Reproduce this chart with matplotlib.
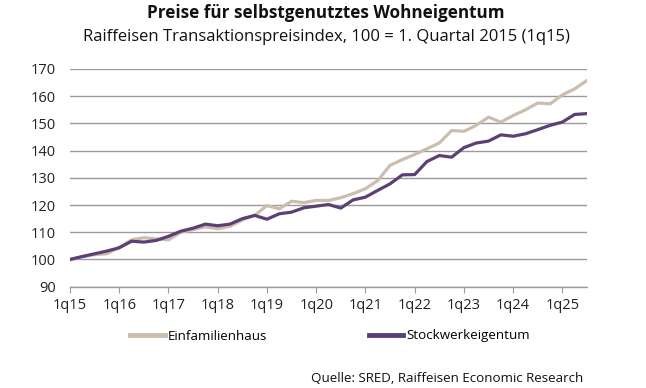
import matplotlib
matplotlib.use("Agg")
import matplotlib.pyplot as plt
from matplotlib.lines import Line2D

plt.rcParams['font.family'] = ['Open Sans', 'DejaVu Sans']

years = list(range(15, 26))
quarters = [f"{q}q{y}" for y in years for q in range(1, 5)][:43]
tick_labels = [f"1q{y}" for y in years]

einfamilienhaus = [100, 101, 101.8, 102.1, 104.5, 107.2, 108, 107.6, 107.2, 110,
                   111, 112, 111.3, 112.2, 114.5, 116.2, 119.8, 118.6, 121.4, 120.9,
                   121.7, 121.7, 122.7, 124.2, 126, 129, 134.6, 136.7, 138.6, 140.7,
                   142.8, 147.4, 147.1, 149.3, 152.3, 150.5, 152.9, 155, 157.5, 157.2,
                   160.5, 162.7, 165.8]
stockwerkeigentum = [100, 101.1, 102.1, 103.1, 104.3, 106.7, 106.4, 107, 108.5, 110.4,
                     111.5, 113, 112.4, 113, 115, 116.2, 114.8, 116.8, 117.4, 119,
                     119.6, 120.2, 118.9, 121.9, 122.9, 125.4, 127.8, 131.1, 131.2, 136,
                     138.2, 137.6, 141.1, 142.8, 143.5, 145.8, 145.3, 146.2, 147.7, 149.3,
                     150.5, 153.3, 153.6]

c_efh = '#CBBEAE'
c_swe = '#5C3F74'

fig = plt.figure(figsize=(6.46, 3.88), dpi=100)
ax = fig.add_axes([70/646, 1-286.7/388, (587-70)/646, (286.7-69)/388])

x = list(range(len(quarters)))
ax.plot(x, einfamilienhaus, color=c_efh, lw=2.3, solid_joinstyle='round', zorder=3)
ax.plot(x, stockwerkeigentum, color=c_swe, lw=2.3, solid_joinstyle='round', zorder=4)

ax.set_xlim(0, len(quarters) - 1)
ax.set_ylim(90, 170)
ax.set_yticks(range(90, 171, 10))
ax.set_xticks([quarters.index(t) for t in tick_labels])
ax.set_xticklabels(tick_labels)

ax.grid(axis='y', color='#9A9A9A', lw=1.0)
ax.set_axisbelow(True)
for s in ['left', 'right', 'top']:
    ax.spines[s].set_visible(False)
ax.spines['bottom'].set_color('#9A9A9A')
ax.spines['bottom'].set_linewidth(1.0)
ax.tick_params(axis='y', length=0, pad=10, labelsize=10.5, labelcolor='#222222')
ax.tick_params(axis='x', length=4, direction='out', color='#9A9A9A', pad=4,
               labelsize=10.5, labelcolor='#222222')

fig.text(326/646, 1-13/388, 'Preise für selbstgenutztes Wohneigentum', ha='center', va='center',
         fontsize=12.3, fontweight='bold', color='#111111')
fig.text(326/646, 1-37/388, 'Raiffeisen Transaktionspreisindex, 100 = 1. Quartal 2015 (1q15)',
         ha='center', va='center', fontsize=12, color='#111111')

handles = [Line2D([], [], color=c_efh, lw=3.5), Line2D([], [], color=c_swe, lw=3.5)]
fig.legend(handles, ['Einfamilienhaus', 'Stockwerkeigentum'], loc='center',
           bbox_to_anchor=(330/646, 1-336/388), ncol=2, frameon=False, fontsize=9.6,
           handlelength=2.6, handletextpad=0.25, columnspacing=7.6)

fig.text(583/646, 1-379/388, 'Quelle: SRED, Raiffeisen Economic Research', ha='right', va='center',
         fontsize=9.6, color='#111111')

fig.savefig('out.png', dpi=100)
